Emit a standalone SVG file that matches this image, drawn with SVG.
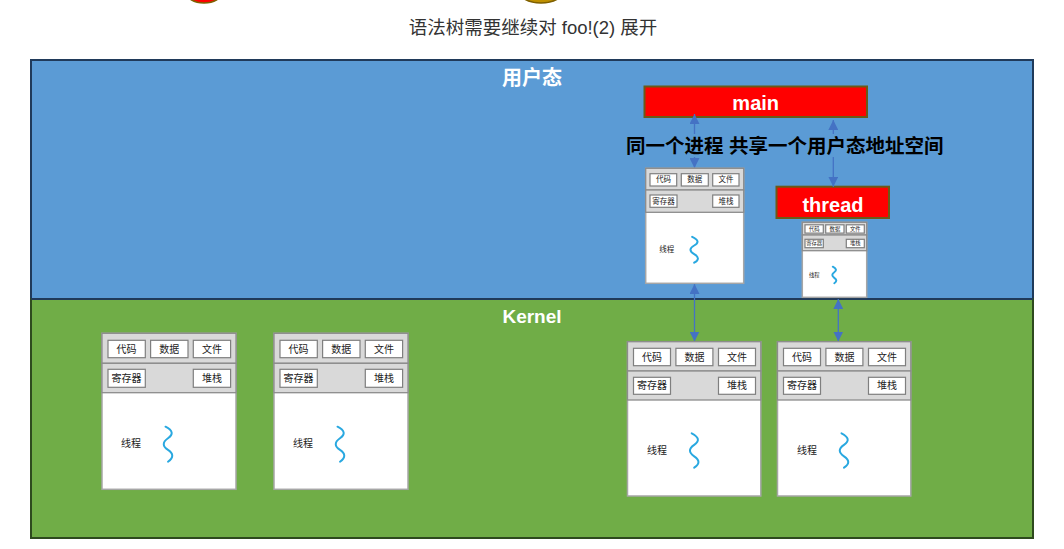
<svg xmlns="http://www.w3.org/2000/svg" width="1064" height="549" viewBox="0 0 1064 549">
<style>
.f{font-family:"Liberation Sans","Noto Sans CJK SC",sans-serif}
.pb{fill:#fff;stroke:#a6a6a6;stroke-width:1.5}
.sec{fill:#d9d9d9;stroke:#8c8c8c;stroke-width:1.3}
.btn{fill:#fff;stroke:#7f7f7f;stroke-width:1.2}
.bt{fill:#222;text-anchor:middle}
.wave{fill:none;stroke:#29a8e0;stroke-width:2;stroke-linecap:round}
.conn{stroke:#4472c4;stroke-width:1.3;fill:none;marker-start:url(#ah);marker-end:url(#ah)}
.lbl{fill:#fff;font-weight:bold;text-anchor:middle}
.tb{fill:#ff0000;stroke:#6b5a17;stroke-width:2}
</style>
<defs>
<marker id="ah" viewBox="0 0 10 10" refX="10" refY="5" markerWidth="10" markerHeight="10" orient="auto-start-reverse" markerUnits="userSpaceOnUse">
<path d="M0,0 L10,5 L0,10 z" fill="#4472c4"/>
</marker>
</defs>
<rect width="1064" height="549" fill="#fff"/>
<g id="top-partial">
<ellipse cx="204" cy="-8" rx="18" ry="11" fill="#ff0000" stroke="#7f6000" stroke-width="1.5"/>
<ellipse cx="541" cy="-10" rx="23" ry="13" fill="#bf9000" stroke="#7f6000" stroke-width="1.5"/>
</g>
<text class="f" x="533" y="34" font-size="18.5" fill="#333" text-anchor="middle">语法树需要继续对 foo!(2) 展开</text>
<g id="userspace">
<rect x="31" y="60" width="1002" height="239" fill="#5b9bd5" stroke="#203a5a" stroke-width="2"/>
<text class="f lbl" x="532" y="85" font-size="20">用户态</text>
</g>
<g id="kernel">
<rect x="31" y="299" width="1002" height="239" fill="#70ad47" stroke="#2e4a1e" stroke-width="2"/>
<line x1="31" y1="299" x2="1033" y2="299" stroke="#203a5a" stroke-width="2"/>
<text class="f lbl" x="532" y="323" font-size="19">Kernel</text>
</g>
<g id="main">
<rect class="tb" x="644.5" y="86.5" width="222.5" height="30.5"/>
<text class="f lbl" x="755.7" y="109.5" font-size="20">main</text>
</g>
<g id="thread">
<rect class="tb" x="776.5" y="186.7" width="112.5" height="31.3"/>
<text class="f lbl" x="833" y="211.5" font-size="20">thread</text>
</g>
<g id="connectors">
<line class="conn" x1="694.5" y1="114" x2="694.5" y2="168"/>
<line class="conn" x1="833.3" y1="120" x2="833.3" y2="186.7"/>
<line class="conn" x1="694.5" y1="284" x2="694.5" y2="341.5"/>
<line class="conn" x1="838.3" y1="299" x2="838.3" y2="341.5"/>
</g>
<g id="share-label">
<rect x="624" y="134" width="320" height="23" fill="#5b9bd5"/>
<text class="f" x="626" y="152.5" font-size="19.5" font-weight="bold" fill="#000">同一个进程 共享一个用户态地址空间</text>
</g>
<g id="proc-user-main" transform="translate(645.7,168.3)">
<rect class="pb" x="0" y="0" width="98" height="115"/>
<rect class="sec" x="0" y="0" width="98" height="21.7"/>
<rect class="sec" x="0" y="21.7" width="98" height="22.3"/>
<rect class="btn" x="4.3" y="5.4" width="26.7" height="12.3"/>
<rect class="btn" x="35.6" y="5.4" width="27" height="12.3"/>
<rect class="btn" x="67" y="5.4" width="26.3" height="12.3"/>
<rect class="btn" x="4.3" y="26.7" width="27" height="12.3"/>
<rect class="btn" x="67" y="26.7" width="26.3" height="12.3"/>
<g class="f bt" font-size="7.5">
<text x="17.7" y="14.2">代码</text><text x="49.1" y="14.2">数据</text><text x="80.2" y="14.2">文件</text>
<text x="17.8" y="35.5">寄存器</text><text x="80.2" y="35.5">堆栈</text>
<text x="21" y="84">线程</text>
</g>
<path class="wave" stroke-width="1.6" d="M46.5 68.5 Q56 73 48.5 77.2 T48.5 85.8 T48.5 94.4"/>
</g>
<g id="proc-user-thread" transform="translate(802.3,222.3)">
<rect class="pb" x="0" y="0" width="64.4" height="75" stroke-width="1.2"/>
<rect class="sec" x="0" y="0" width="64.4" height="12.7" stroke-width="1"/>
<rect class="sec" x="0" y="12.7" width="64.4" height="15.7" stroke-width="1"/>
<rect class="btn" x="2.7" y="2.5" width="18.3" height="8.3" stroke-width="0.8"/>
<rect class="btn" x="23.4" y="2.5" width="18.3" height="8.3" stroke-width="0.8"/>
<rect class="btn" x="44" y="2.5" width="18" height="8.3" stroke-width="0.8"/>
<rect class="btn" x="2.7" y="17" width="18.3" height="8.4" stroke-width="0.8"/>
<rect class="btn" x="44" y="17" width="18" height="8.4" stroke-width="0.8"/>
<g class="f bt" font-size="5.3">
<text x="11.9" y="8.6">代码</text><text x="32.6" y="8.6">数据</text><text x="53" y="8.6">文件</text>
<text x="11.9" y="23.1">寄存器</text><text x="53" y="23.1">堆栈</text>
<text x="12" y="54.5">线程</text>
</g>
<path class="wave" stroke-width="1.1" d="M30.5 44.4 Q36 47.2 32 50 T32 55.5 T32 61"/>
</g>
<g id="proc-k1" transform="translate(102,333.3)">
<rect class="pb" x="0" y="0" width="134" height="156"/>
<rect class="sec" x="0" y="0" width="134" height="30"/>
<rect class="sec" x="0" y="30" width="134" height="29.4"/>
<rect class="btn" x="6" y="7" width="37.3" height="17.4"/>
<rect class="btn" x="48.6" y="7" width="37.4" height="17.4"/>
<rect class="btn" x="91.3" y="7" width="37.3" height="17.4"/>
<rect class="btn" x="6" y="36" width="37.3" height="18"/>
<rect class="btn" x="91.3" y="36" width="37.3" height="18"/>
<g class="f bt" font-size="10">
<text x="24.6" y="19.3">代码</text><text x="67.3" y="19.3">数据</text><text x="110" y="19.3">文件</text>
<text x="24.6" y="48.6">寄存器</text><text x="110" y="48.6">堆栈</text>
<text x="29" y="114">线程</text>
</g>
<path class="wave" d="M63.5 93.4 Q74.5 99 66 105 T66 116.6 T66 128.4"/>
</g>
<g id="proc-k2" transform="translate(274,333.3)">
<rect class="pb" x="0" y="0" width="134" height="156"/>
<rect class="sec" x="0" y="0" width="134" height="30"/>
<rect class="sec" x="0" y="30" width="134" height="29.4"/>
<rect class="btn" x="6" y="7" width="37.3" height="17.4"/>
<rect class="btn" x="48.6" y="7" width="37.4" height="17.4"/>
<rect class="btn" x="91.3" y="7" width="37.3" height="17.4"/>
<rect class="btn" x="6" y="36" width="37.3" height="18"/>
<rect class="btn" x="91.3" y="36" width="37.3" height="18"/>
<g class="f bt" font-size="10">
<text x="24.6" y="19.3">代码</text><text x="67.3" y="19.3">数据</text><text x="110" y="19.3">文件</text>
<text x="24.6" y="48.6">寄存器</text><text x="110" y="48.6">堆栈</text>
<text x="29" y="114">线程</text>
</g>
<path class="wave" d="M63.5 93.4 Q74.5 99 66 105 T66 116.6 T66 128.4"/>
</g>
<g id="proc-k3" transform="translate(627.5,341.7)">
<rect class="pb" x="0" y="0" width="133.3" height="154.3"/>
<rect class="sec" x="0" y="0" width="133.3" height="29.3"/>
<rect class="sec" x="0" y="29.3" width="133.3" height="29"/>
<rect class="btn" x="6" y="6.6" width="37" height="17.4"/>
<rect class="btn" x="48.4" y="6.6" width="37" height="17.4"/>
<rect class="btn" x="91" y="6.6" width="37" height="17.4"/>
<rect class="btn" x="6" y="35.6" width="37" height="17"/>
<rect class="btn" x="91" y="35.6" width="37" height="17"/>
<g class="f bt" font-size="10">
<text x="24.5" y="18.9">代码</text><text x="66.9" y="18.9">数据</text><text x="109.5" y="18.9">文件</text>
<text x="24.5" y="47.7">寄存器</text><text x="109.5" y="47.7">堆栈</text>
<text x="29.4" y="112.5">线程</text>
</g>
<path class="wave" d="M64.2 91.6 Q75.2 97.3 66.7 103.1 T66.7 114.6 T66.7 126"/>
</g>
<g id="proc-k4" transform="translate(777.5,341.7)">
<rect class="pb" x="0" y="0" width="133.3" height="154.3"/>
<rect class="sec" x="0" y="0" width="133.3" height="29.3"/>
<rect class="sec" x="0" y="29.3" width="133.3" height="29"/>
<rect class="btn" x="6" y="6.6" width="37" height="17.4"/>
<rect class="btn" x="48.4" y="6.6" width="37" height="17.4"/>
<rect class="btn" x="91" y="6.6" width="37" height="17.4"/>
<rect class="btn" x="6" y="35.6" width="37" height="17"/>
<rect class="btn" x="91" y="35.6" width="37" height="17"/>
<g class="f bt" font-size="10">
<text x="24.5" y="18.9">代码</text><text x="66.9" y="18.9">数据</text><text x="109.5" y="18.9">文件</text>
<text x="24.5" y="47.7">寄存器</text><text x="109.5" y="47.7">堆栈</text>
<text x="29.4" y="112.5">线程</text>
</g>
<path class="wave" d="M64 91.6 Q75 97.3 66.5 103.1 T66.5 114.6 T66.5 126"/>
</g>
</svg>
